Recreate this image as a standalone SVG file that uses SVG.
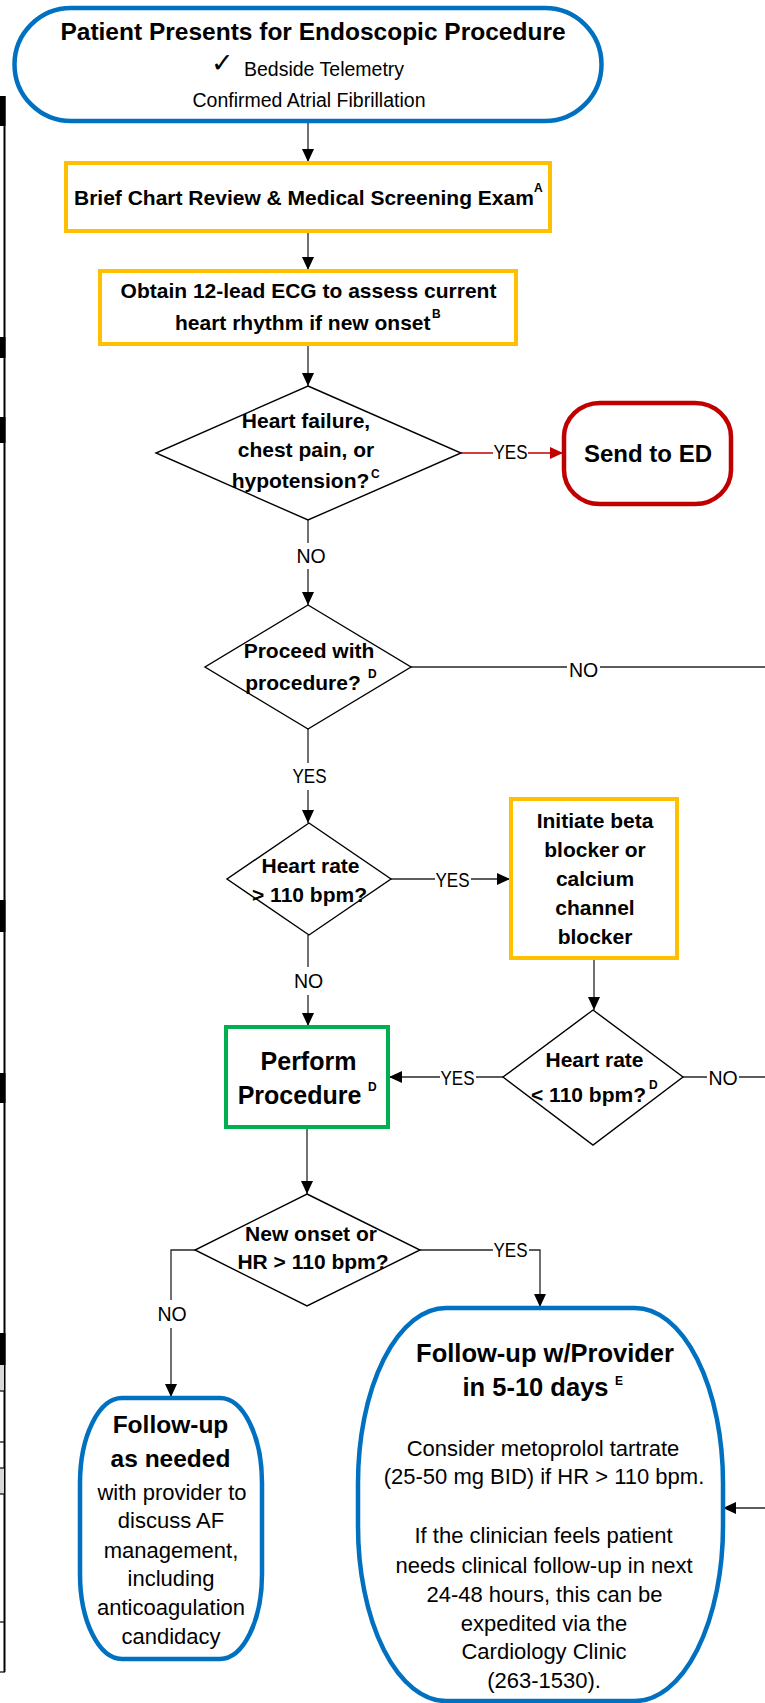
<svg xmlns="http://www.w3.org/2000/svg" width="765" height="1703" viewBox="0 0 765 1703">
<defs>
<style>
.t{font-family:"Liberation Sans",Arial,sans-serif;fill:#000}
.b{font-weight:bold;font-size:21px}
.r{font-size:22px}
.c{text-anchor:middle}
.lbl{font-size:19.5px;text-anchor:middle}
.sup{font-weight:bold;font-size:12px}
.cn{stroke:#262626;stroke-width:1.3;fill:none}
.red{stroke:#C00000;stroke-width:1.3;fill:none}
.bg{fill:#fff;stroke:none}
.dia{fill:#fff;stroke:#000;stroke-width:1.4}
.blue{fill:#fff;stroke:#0070C0;stroke-width:4.5}
.yel{fill:#fff;stroke:#FFC000;stroke-width:4}
.grn{fill:#fff;stroke:#00B050;stroke-width:4}
.redb{fill:#fff;stroke:#C00000;stroke-width:4.5}
</style>
<marker id="ah" markerUnits="userSpaceOnUse" markerWidth="13" markerHeight="12" refX="13" refY="6" orient="auto"><path d="M0,0 L13,6 L0,12 z" fill="#000"/></marker>
<marker id="ahr" markerUnits="userSpaceOnUse" markerWidth="13" markerHeight="12" refX="13" refY="6" orient="auto"><path d="M0,0 L13,6 L0,12 z" fill="#C00000"/></marker>
</defs>
<rect width="765" height="1703" fill="#fff"/>

<!-- cut-off table at left edge -->
<g id="left-edge">
<line x1="4.5" y1="96" x2="4.5" y2="1672" stroke="#000" stroke-width="2"/>
<rect x="0" y="96" width="5.5" height="30" fill="#000"/>
<rect x="0" y="337" width="5.5" height="21" fill="#000"/>
<rect x="0" y="417" width="5.5" height="26" fill="#000"/>
<rect x="0" y="900" width="5.5" height="32" fill="#000"/>
<rect x="0" y="1073" width="5.5" height="30" fill="#000"/>
<rect x="0" y="1333" width="5.5" height="32" fill="#000"/>
<rect x="0" y="1365" width="4" height="26" fill="#d9d9d9"/>
<rect x="0" y="1468" width="4" height="26" fill="#d9d9d9"/>
<g stroke="#000" stroke-width="1.2">
<line x1="0" y1="1391" x2="5" y2="1391"/>
<line x1="0" y1="1442" x2="5" y2="1442"/>
<line x1="0" y1="1468" x2="5" y2="1468"/>
<line x1="0" y1="1494" x2="5" y2="1494"/>
<line x1="0" y1="1622" x2="5" y2="1622"/>
<line x1="0" y1="1672" x2="5" y2="1672"/>
</g>
</g>

<g id="connectors">
<line class="cn" x1="308" y1="121" x2="308" y2="162" marker-end="url(#ah)"/>
<line class="cn" x1="308" y1="231" x2="308" y2="270" marker-end="url(#ah)"/>
<line class="cn" x1="308" y1="344" x2="308" y2="386" marker-end="url(#ah)"/>
<line class="red" x1="461" y1="453" x2="563" y2="453" marker-end="url(#ahr)"/>
<line class="cn" x1="308" y1="520" x2="308" y2="605" marker-end="url(#ah)"/>
<line class="cn" x1="411" y1="667" x2="765" y2="667"/>
<line class="cn" x1="308" y1="729" x2="308" y2="823" marker-end="url(#ah)"/>
<line class="cn" x1="391" y1="879" x2="510" y2="879" marker-end="url(#ah)"/>
<line class="cn" x1="594" y1="958" x2="594" y2="1010" marker-end="url(#ah)"/>
<line class="cn" x1="308" y1="935" x2="308" y2="1026" marker-end="url(#ah)"/>
<line class="cn" x1="503" y1="1077" x2="389" y2="1077" marker-end="url(#ah)"/>
<line class="cn" x1="683" y1="1077" x2="765" y2="1077"/>
<line class="cn" x1="307" y1="1127" x2="307" y2="1194" marker-end="url(#ah)"/>
<polyline class="cn" points="195,1250 171,1250 171,1397" marker-end="url(#ah)"/>
<polyline class="cn" points="420,1250 540,1250 540,1307" marker-end="url(#ah)"/>
<line class="cn" x1="765" y1="1508" x2="723" y2="1508" marker-end="url(#ah)"/>

<rect class="bg" x="493" y="444" width="35" height="18"/>
<text class="t lbl" x="510.5" y="459" textLength="34" lengthAdjust="spacingAndGlyphs">YES</text>
<rect class="bg" x="296" y="543" width="30" height="26"/>
<text class="t lbl" x="311" y="563">NO</text>
<rect class="bg" x="567" y="660" width="33" height="20"/>
<text class="t lbl" x="583.5" y="677">NO</text>
<rect class="bg" x="291" y="763" width="37" height="27"/>
<text class="t lbl" x="309.5" y="783" textLength="34" lengthAdjust="spacingAndGlyphs">YES</text>
<rect class="bg" x="435" y="870" width="36" height="20"/>
<text class="t lbl" x="452.5" y="887" textLength="34" lengthAdjust="spacingAndGlyphs">YES</text>
<rect class="bg" x="293" y="967" width="31" height="28"/>
<text class="t lbl" x="308.5" y="988">NO</text>
<rect class="bg" x="440" y="1068" width="36" height="20"/>
<text class="t lbl" x="457.5" y="1085" textLength="34" lengthAdjust="spacingAndGlyphs">YES</text>
<rect class="bg" x="707" y="1068" width="32" height="20"/>
<text class="t lbl" x="723" y="1085">NO</text>
<rect class="bg" x="156" y="1300" width="32" height="28"/>
<text class="t lbl" x="172" y="1321">NO</text>
<rect class="bg" x="493" y="1240" width="36" height="20"/>
<text class="t lbl" x="510.5" y="1257" textLength="34" lengthAdjust="spacingAndGlyphs">YES</text>
</g>

<g id="start">
<rect class="blue" x="14.5" y="8" width="587" height="113" rx="56.5" ry="56.5"/>
<text class="t b c" x="313" y="40" style="font-size:24.5px">Patient Presents for Endoscopic Procedure</text>
<text x="211" y="72" style="font-family:'DejaVu Sans',sans-serif;font-size:27px">✓</text>
<text class="t" x="244" y="76" style="font-size:19.5px">Bedside Telemetry</text>
<text class="t c" x="309" y="107" style="font-size:19.5px">Confirmed Atrial Fibrillation</text>
</g>

<g id="chart-review">
<rect class="yel" x="66" y="163" width="484" height="68"/>
<text class="t b" x="74" y="205">Brief Chart Review &amp; Medical Screening Exam</text>
<text class="t sup" x="534" y="192">A</text>
</g>

<g id="ecg">
<rect class="yel" x="100" y="271" width="416" height="73"/>
<text class="t b c" x="308.5" y="298">Obtain 12-lead ECG to assess current</text>
<text class="t b" x="175" y="330">heart rhythm if new onset</text>
<text class="t sup" x="432" y="318">B</text>
</g>

<g id="q-hf">
<polygon class="dia" points="308,386 461,453 308,520 156,453"/>
<text class="t b c" x="306" y="428">Heart failure,</text>
<text class="t b c" x="306" y="457">chest pain, or</text>
<text class="t b c" x="300.5" y="488">hypotension?</text>
<text class="t sup" x="371" y="478">C</text>
</g>

<g id="send-ed">
<rect class="redb" x="564" y="403" width="167" height="101" rx="36" ry="34"/>
<text class="t b c" x="648" y="462" style="font-size:24px">Send to ED</text>
</g>

<g id="q-proceed">
<polygon class="dia" points="308,605 411,667 308,729 205,667"/>
<text class="t b c" x="309" y="658">Proceed with</text>
<text class="t b c" x="303" y="690">procedure?</text>
<text class="t sup" x="368" y="678">D</text>
</g>

<g id="q-hr1">
<polygon class="dia" points="309,823 391,879 309,935 227,879"/>
<text class="t b c" x="310.5" y="873">Heart rate</text>
<text class="t b c" x="309.5" y="902">&gt; 110 bpm?</text>
</g>

<g id="initiate">
<rect class="yel" x="511" y="799" width="166" height="159"/>
<text class="t b c" x="595" y="828">Initiate beta</text>
<text class="t b c" x="595" y="857">blocker or</text>
<text class="t b c" x="595" y="886">calcium</text>
<text class="t b c" x="595" y="915">channel</text>
<text class="t b c" x="595" y="944">blocker</text>
</g>

<g id="q-hr2">
<polygon class="dia" points="593,1010 683,1077 593,1145 503,1077"/>
<text class="t b c" x="594.5" y="1067">Heart rate</text>
<text class="t b c" x="588.5" y="1102">&lt; 110 bpm?</text>
<text class="t sup" x="649" y="1089">D</text>
</g>

<g id="perform">
<rect class="grn" x="226" y="1027" width="162" height="100"/>
<text class="t b c" x="308.5" y="1070" style="font-size:25px">Perform</text>
<text class="t b c" x="299.5" y="1104" style="font-size:25px">Procedure</text>
<text class="t sup" x="368" y="1091">D</text>
</g>

<g id="q-newonset">
<polygon class="dia" points="307,1194 420,1250 307,1306 195,1250"/>
<text class="t b c" x="311" y="1241">New onset or</text>
<text class="t b c" x="313" y="1269">HR &gt; 110 bpm?</text>
</g>

<g id="followup-asneeded">
<rect class="blue" x="80" y="1398" width="182" height="261" rx="42" ry="85"/>
<text class="t b c" x="170.5" y="1433" style="font-size:24.5px">Follow-up</text>
<text class="t b c" x="170.5" y="1467" style="font-size:24.5px">as needed</text>
<text class="t r c" x="172" y="1500">with provider to</text>
<text class="t r c" x="171" y="1528">discuss AF</text>
<text class="t r c" x="171" y="1558">management,</text>
<text class="t r c" x="171" y="1586">including</text>
<text class="t r c" x="171" y="1615">anticoagulation</text>
<text class="t r c" x="171" y="1644">candidacy</text>
</g>

<g id="followup-provider">
<rect class="blue" x="358" y="1308" width="365" height="393" rx="88" ry="175"/>
<text class="t b c" x="545" y="1362" style="font-size:25.5px">Follow-up w/Provider</text>
<text class="t b c" x="535.5" y="1396" style="font-size:25.5px">in 5-10 days</text>
<text class="t sup" x="615" y="1385">E</text>
<text class="t r c" x="543" y="1456">Consider metoprolol tartrate</text>
<text class="t r c" x="544" y="1484">(25-50 mg BID) if HR &gt; 110 bpm.</text>
<text class="t r c" x="543.5" y="1543">If the clinician feels patient</text>
<text class="t r c" x="544" y="1573">needs clinical follow-up in next</text>
<text class="t r c" x="544.5" y="1602">24-48 hours, this can be</text>
<text class="t r c" x="544" y="1631">expedited via the</text>
<text class="t r c" x="544" y="1659">Cardiology Clinic</text>
<text class="t r c" x="544" y="1688">(263-1530).</text>
</g>
</svg>
